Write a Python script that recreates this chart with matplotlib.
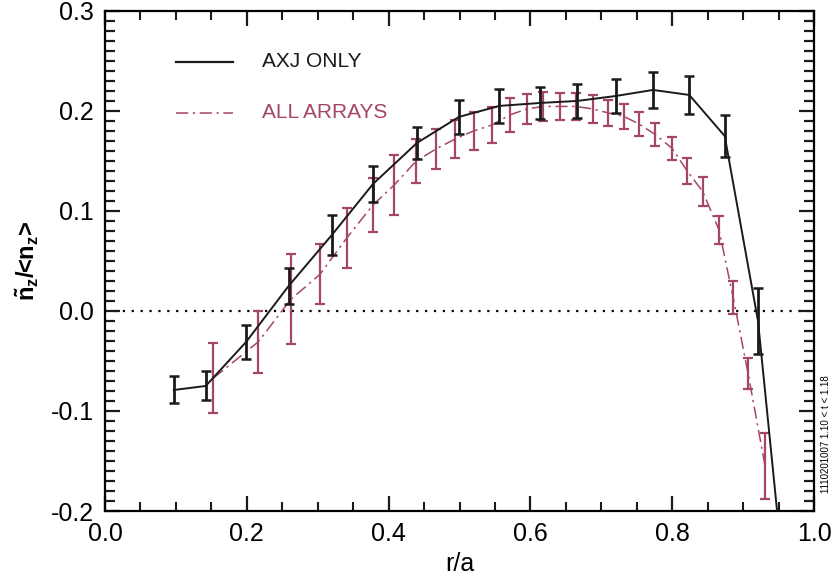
"""Impurity density perturbation profile: AXJ only vs all arrays."""
import numpy as np
import matplotlib.pyplot as plt
from matplotlib.ticker import MultipleLocator, FixedLocator

plt.rcParams['font.family'] = ['Liberation Sans', 'DejaVu Sans']
plt.rcParams['mathtext.fontset'] = 'custom'
plt.rcParams['mathtext.rm'] = 'Liberation Sans'
plt.rcParams['mathtext.it'] = 'Liberation Sans'
plt.rcParams['mathtext.bf'] = 'Liberation Sans:bold'
plt.rcParams['mathtext.default'] = 'bf'

# AXJ only (black, solid)
axj_x = [0.097, 0.142, 0.199, 0.259, 0.320, 0.378, 0.440, 0.499, 0.556,
         0.614, 0.666, 0.721, 0.773, 0.824, 0.874, 0.921, 0.955]
axj_y = [-0.079, -0.075, -0.031, 0.025, 0.076, 0.127, 0.168, 0.194, 0.205,
         0.208, 0.210, 0.215, 0.221, 0.216, 0.175, -0.010, -0.250]
axj_err = [0.0135, 0.0145, 0.017, 0.018, 0.020, 0.018, 0.016, 0.017, 0.017,
           0.016, 0.017, 0.017, 0.018, 0.019, 0.021, 0.033, 0.0]

# All arrays (red, dash-dot)
all_x = [0.153, 0.216, 0.262, 0.303, 0.341, 0.378, 0.408, 0.439, 0.467,
         0.494, 0.520, 0.546, 0.571, 0.595, 0.618, 0.642, 0.664, 0.688,
         0.710, 0.732, 0.753, 0.776, 0.800, 0.821, 0.843, 0.866, 0.886,
         0.907, 0.931]
all_y = [-0.067, -0.031, 0.0115, 0.0365, 0.073, 0.106, 0.126, 0.150, 0.162,
         0.172, 0.180, 0.186, 0.196, 0.202, 0.2045, 0.2045, 0.2045, 0.202,
         0.198, 0.1945, 0.187, 0.1765, 0.1625, 0.140, 0.1195, 0.081, 0.0135,
         -0.0625, -0.155]
all_err = [0.035, 0.031, 0.045, 0.030, 0.030, 0.027, 0.030, 0.022, 0.020,
           0.019, 0.019, 0.018, 0.017, 0.015, 0.0145, 0.0135, 0.0135, 0.014,
           0.013, 0.0125, 0.012, 0.0115, 0.0115, 0.013, 0.0145, 0.014, 0.0165,
           0.0155, 0.033]

RED = '#a5456a'

fig = plt.figure(figsize=(8.36, 5.75), dpi=100)
ax = fig.add_axes([0.1256, 0.1113, 0.8481, 0.8697])

ax.axhline(0, color='black', lw=1.6, ls=(0, (1, 3)), zorder=1)

ax.errorbar(all_x, all_y, yerr=all_err, color=RED, lw=1.1,
            ls=(0, (8, 3, 1.5, 3)), elinewidth=1.6, capsize=3.6,
            capthick=1.6, zorder=2)
ax.errorbar(axj_x, axj_y, yerr=axj_err, color='#1a1a1a', lw=1.4,
            elinewidth=2.0, capsize=3.6, capthick=1.8, zorder=3)

# hand-drawn style legend
ax.plot([0.10, 0.18], [0.249, 0.249], color='#1a1a1a', lw=1.6)
ax.text(0.221, 0.249, 'AXJ ONLY', color='#1a1a1a', fontsize=15, va='center')
ax.plot([0.10, 0.18], [0.198, 0.198], color=RED, lw=1.1,
        ls=(0, (8, 3, 1.5, 3)))
ax.text(0.221, 0.198, 'ALL ARRAYS', color=RED, fontsize=15, va='center')

ax.set_xlim(0.0, 1.0)
ax.set_ylim(-0.2, 0.3)

ax.xaxis.set_major_locator(MultipleLocator(0.2))
ax.xaxis.set_minor_locator(FixedLocator(np.round(np.arange(0, 1.001, 0.05), 3)))
ax.yaxis.set_major_locator(MultipleLocator(0.1))
ax.yaxis.set_minor_locator(FixedLocator(np.round(np.arange(-0.2, 0.3001, 0.01), 3)))
ax.xaxis.set_major_formatter(plt.FormatStrFormatter('%.1f'))
ax.yaxis.set_major_formatter(plt.FormatStrFormatter('%.1f'))

ax.tick_params(which='both', direction='in', top=True, right=True,
               labelsize=18, color='#1a1a1a')
ax.tick_params(which='major', length=11, width=1.6, pad=8)
ax.tick_params(which='minor', length=6.5, width=1.5)
ax.tick_params(axis='y', which='minor', length=7, width=1.6)
for s in ax.spines.values():
    s.set_linewidth(1.6)

ax.set_xlabel('r/a', fontsize=18, labelpad=4)
ax.set_ylabel(r'$\tilde{n}_z$/<n$_z$>', fontsize=17, fontweight='bold')
ax.yaxis.set_label_coords(-0.09, 0.50)

fig.text(0.988, 0.245, '1110201007 1.10 < t < 1.18', rotation=90,
         fontsize=7, ha='center', va='center')

fig.savefig('out.png', dpi=100)
